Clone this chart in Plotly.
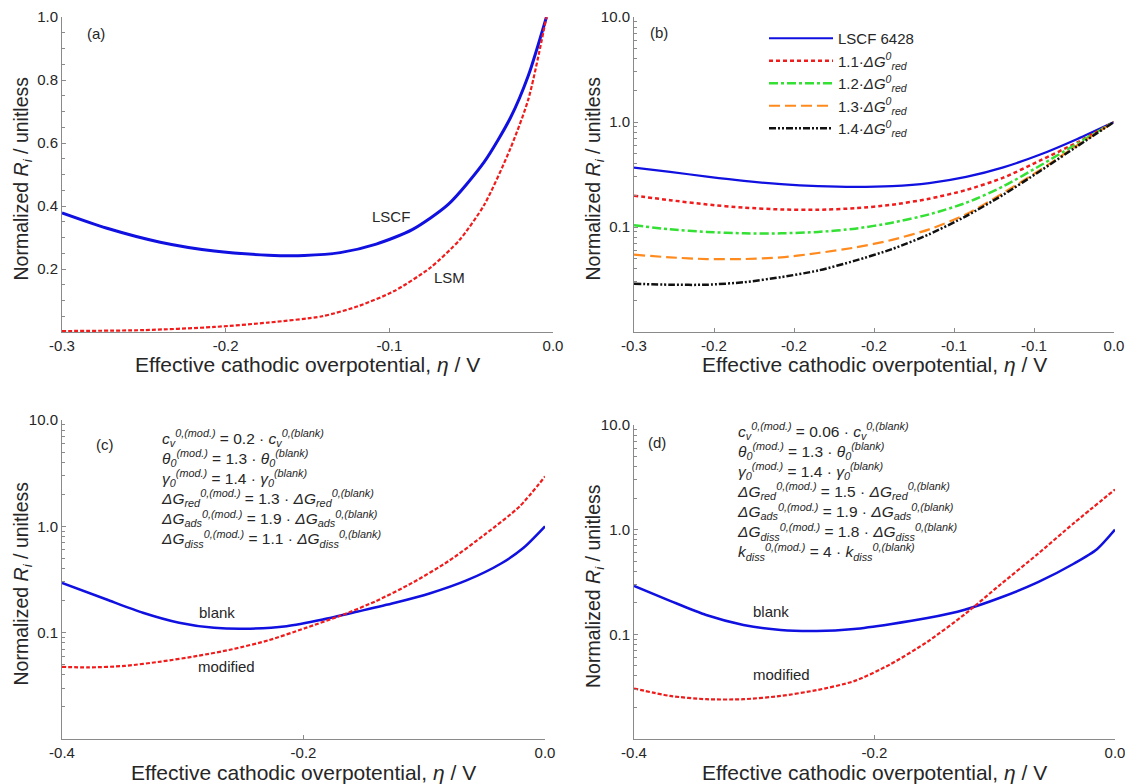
import math
import plotly.graph_objects as go

W, H = 1133, 784
OFF = 8  # page body margin in the browser; positions below are screen pixels

# ---------------- data ----------------
# Panel (a)  linear scale
ETA_A_LSCF = [-0.3, -0.273, -0.24, -0.207, -0.174, -0.152, -0.13, -0.108, -0.086, -0.064, -0.042, -0.026, -0.015, -0.004]
R_A_LSCF = [0.378, 0.33, 0.285, 0.257, 0.244, 0.243, 0.252, 0.279, 0.325, 0.405, 0.54, 0.68, 0.815, 1.0]
ETA_A_LSM = [-0.3, -0.25, -0.207, -0.174, -0.141, -0.119, -0.097, -0.075, -0.057, -0.042, -0.026, -0.015, -0.004]
R_A_LSM = [0.003, 0.006, 0.016, 0.03, 0.05, 0.082, 0.13, 0.204, 0.293, 0.404, 0.583, 0.74, 1.0]

# Panel (b)  log scale
ETA_B = [-0.3, -0.2775, -0.2544, -0.2313, -0.2081, -0.185, -0.1618, -0.1387, -0.1155, -0.0924, -0.0692, -0.0461, -0.0229, 0.0]
R_B_LSCF = [0.368, 0.335, 0.302, 0.275, 0.256, 0.245, 0.241, 0.245, 0.262, 0.3, 0.37, 0.49, 0.69, 1.0]
R_B_11 = [0.199, 0.18, 0.164, 0.153, 0.147, 0.146, 0.151, 0.163, 0.186, 0.225, 0.295, 0.43, 0.64, 1.0]
R_B_12 = [0.104, 0.095, 0.0898, 0.087, 0.087, 0.0898, 0.0964, 0.11, 0.132, 0.17, 0.244, 0.385, 0.625, 1.0]
R_B_13 = [0.0545, 0.0514, 0.0495, 0.0495, 0.0514, 0.0565, 0.0638, 0.0754, 0.095, 0.132, 0.211, 0.35, 0.60, 1.0]
R_B_14 = [0.0288, 0.0282, 0.0282, 0.0298, 0.0333, 0.0385, 0.0478, 0.0616, 0.0853, 0.127, 0.203, 0.342, 0.589, 1.0]
B_NAMES = [
    "LSCF 6428",
    "1.1·<i>ΔG</i><sup><i>0</i></sup><sub><i>red</i></sub>",
    "1.2·<i>ΔG</i><sup><i>0</i></sup><sub><i>red</i></sub>",
    "1.3·<i>ΔG</i><sup><i>0</i></sup><sub><i>red</i></sub>",
    "1.4·<i>ΔG</i><sup><i>0</i></sup><sub><i>red</i></sub>",
]

# Panel (c)  log scale
ETA_C_BLANK = [-0.4, -0.363, -0.333, -0.303, -0.274, -0.244, -0.214, -0.184, -0.155, -0.125, -0.095, -0.065, -0.036, -0.018, 0.0]
R_C_BLANK = [0.294, 0.205, 0.154, 0.124, 0.111, 0.109, 0.115, 0.133, 0.158, 0.19, 0.235, 0.31, 0.45, 0.625, 1.0]
ETA_C_MOD = [-0.4, -0.378, -0.348, -0.318, -0.288, -0.259, -0.229, -0.199, -0.169, -0.140, -0.110, -0.080, -0.050, -0.021, 0.0]
R_C_MOD = [0.0477, 0.0471, 0.0487, 0.0535, 0.0604, 0.0698, 0.0848, 0.11, 0.145, 0.198, 0.294, 0.47, 0.835, 1.54, 2.94]
C_LINES = [
    "<i>c<sub>v</sub><sup>0,(mod.)</sup></i> = 0.2 · <i>c<sub>v</sub><sup>0,(blank)</sup></i>",
    "<i>θ<sub>0</sub><sup>(mod.)</sup></i> = 1.3 · <i>θ<sub>0</sub><sup>(blank)</sup></i>",
    "<i>γ<sub>0</sub><sup>(mod.)</sup></i> = 1.4 · <i>γ<sub>0</sub><sup>(blank)</sup></i>",
    "<i>ΔG<sub>red</sub><sup>0,(mod.)</sup></i> = 1.3 · <i>ΔG<sub>red</sub><sup>0,(blank)</sup></i>",
    "<i>ΔG<sub>ads</sub><sup>0,(mod.)</sup></i> = 1.9 · <i>ΔG<sub>ads</sub><sup>0,(blank)</sup></i>",
    "<i>ΔG<sub>diss</sub><sup>0,(mod.)</sup></i> = 1.1 · <i>ΔG<sub>diss</sub><sup>0,(blank)</sup></i>",
]

# Panel (d)  log scale
ETA_D_BLANK = [-0.4, -0.370, -0.340, -0.309, -0.278, -0.248, -0.217, -0.187, -0.156, -0.125, -0.095, -0.064, -0.034, -0.015, 0.0]
R_D_BLANK = [0.29, 0.209, 0.153, 0.123, 0.110, 0.1076, 0.1125, 0.125, 0.143, 0.172, 0.225, 0.315, 0.475, 0.65, 1.0]
ETA_D_MOD = [-0.4, -0.370, -0.340, -0.309, -0.278, -0.248, -0.217, -0.187, -0.156, -0.125, -0.095, -0.064, -0.034, 0.0]
R_D_MOD = [0.0304, 0.0258, 0.024, 0.024, 0.0258, 0.0293, 0.0357, 0.0516, 0.085, 0.1555, 0.301, 0.589, 1.16, 2.42]
D_LINES = [
    "<i>c<sub>v</sub><sup>0,(mod.)</sup></i> = 0.06 · <i>c<sub>v</sub><sup>0,(blank)</sup></i>",
    "<i>θ<sub>0</sub><sup>(mod.)</sup></i> = 1.3 · <i>θ<sub>0</sub><sup>(blank)</sup></i>",
    "<i>γ<sub>0</sub><sup>(mod.)</sup></i> = 1.4 · <i>γ<sub>0</sub><sup>(blank)</sup></i>",
    "<i>ΔG<sub>red</sub><sup>0,(mod.)</sup></i> = 1.5 · <i>ΔG<sub>red</sub><sup>0,(blank)</sup></i>",
    "<i>ΔG<sub>ads</sub><sup>0,(mod.)</sup></i> = 1.9 · <i>ΔG<sub>ads</sub><sup>0,(blank)</sup></i>",
    "<i>ΔG<sub>diss</sub><sup>0,(mod.)</sup></i> = 1.8 · <i>ΔG<sub>diss</sub><sup>0,(blank)</sup></i>",
    "<i>k<sub>diss</sub><sup>0,(mod.)</sup></i> = 4 · <i>k<sub>diss</sub><sup>0,(blank)</sup></i>",
]

# tick labels
X_TICKS_A = [-0.3, -0.2, -0.1, 0.0]
X_TEXT_A = ["-0.3", "-0.2", "-0.1", "0.0"]
X_TICKS_B = [-0.3, -0.25, -0.2, -0.15, -0.1, -0.05, 0.0]
X_TEXT_B = ["-0.3", "-0.2", "-0.2", "-0.2", "-0.1", "-0.1", "0.0"]
X_TICKS_CD = [-0.4, -0.2, 0.0]
X_TEXT_CD = ["-0.4", "-0.2", "0.0"]
Y_TICKS_A = [0.2, 0.4, 0.6, 0.8, 1.0]
Y_TEXT_A = ["0.2", "0.4", "0.6", "0.8", "1.0"]
Y_TICKS_LOG = [0.1, 1.0, 10.0]
Y_TEXT_LOG = ["0.1", "1.0", "10.0"]

X_TITLE = "Effective cathodic overpotential, <i>η</i> / V"
Y_TITLE = "Normalized <i>R<sub>i</sub></i> / unitless"

# ---------------- style ----------------
FONT = "Liberation Sans, Arial, sans-serif"
TXT = "#262626"
AX = "#8a8a8a"
BLUE = "#1010e0"
RED = "#f01c1c"
GREEN = "#33e033"
ORANGE = "#ff8a1e"
BLACK = "#111111"

# panel boxes in screen pixels: (left, right, top, bottom)
BOX = {
    "a": (62, 553, 17, 332),
    "b": (634, 1114, 17, 332),
    "c": (62, 545, 420, 739),
    "d": (634, 1115, 425, 739),
}


def fx(px):
    return (px - OFF) / W


def fy(py):
    return 1 - (py - OFF) / H


def dom(box):
    l, r, t, b = box
    return [fx(l), fx(r)], [fy(b), fy(t)]


fig = go.Figure()


def line(x, y, xa, ya, color, width, dash="solid", name=None, legend=False):
    fig.add_trace(go.Scatter(
        x=x, y=y, mode="lines", xaxis=xa, yaxis=ya,
        line=dict(color=color, width=width, dash=dash, shape="spline", smoothing=0.7),
        name=name, showlegend=legend, hoverinfo="skip"))


line(ETA_A_LSCF, R_A_LSCF, "x", "y", BLUE, 3)
line(ETA_A_LSM, R_A_LSM, "x", "y", RED, 2.2, "4px,2px")

line(ETA_B, R_B_LSCF, "x2", "y2", BLUE, 2.2, "solid", B_NAMES[0], True)
line(ETA_B, R_B_11, "x2", "y2", RED, 2.5, "4px,3px", B_NAMES[1], True)
line(ETA_B, R_B_12, "x2", "y2", GREEN, 2.5, "9px,3px,3px,3px", B_NAMES[2], True)
line(ETA_B, R_B_13, "x2", "y2", ORANGE, 2.2, "11px,5px", B_NAMES[3], True)
line(ETA_B, R_B_14, "x2", "y2", BLACK, 2.5, "7px,2px,2px,2px,2px,2px", B_NAMES[4], True)

line(ETA_C_BLANK, R_C_BLANK, "x3", "y3", BLUE, 2.5)
line(ETA_C_MOD, R_C_MOD, "x3", "y3", RED, 2.2, "4px,2px")

line(ETA_D_BLANK, R_D_BLANK, "x4", "y4", BLUE, 2.5)
line(ETA_D_MOD, R_D_MOD, "x4", "y4", RED, 2.2, "4px,2px")

tickfont = dict(family=FONT, size=15, color=TXT)


def xax(box, rng, tv, tt, anchor):
    d, _ = dom(box)
    return dict(domain=d, range=rng, anchor=anchor, tickmode="array", tickvals=tv, ticktext=tt,
                showline=True, linecolor=AX, linewidth=1, ticks="inside", ticklen=4, tickcolor=AX,
                showgrid=False, zeroline=False, tickfont=tickfont, fixedrange=True, automargin=False,
                ticklabeloverflow="allow")


def yax(box, anchor, log):
    _, d = dom(box)
    base = dict(domain=d, anchor=anchor, showline=True, linecolor=AX, linewidth=1,
                ticks="inside", ticklen=4, tickcolor=AX, showgrid=False, zeroline=False,
                tickfont=tickfont, fixedrange=True, tickmode="array", automargin=False,
                ticklabeloverflow="allow")
    if log:
        base.update(type="log", range=[-2, 1], tickvals=Y_TICKS_LOG, ticktext=Y_TEXT_LOG,
                    minor=dict(ticks="inside", ticklen=2.5, tickcolor=AX, dtick="D1", showgrid=False))
    else:
        base.update(range=[0, 1.0], tickvals=Y_TICKS_A, ticktext=Y_TEXT_A,
                    minor=dict(ticks="inside", ticklen=2.5, tickcolor=AX, dtick=0.05, tick0=0, showgrid=False))
    return base


fig.update_layout(
    width=W, height=H, margin=dict(l=0, r=0, t=0, b=0, autoexpand=False),
    paper_bgcolor="white", plot_bgcolor="white",
    font=dict(family=FONT, color=TXT),
    xaxis=xax(BOX["a"], [-0.3, 0.0], X_TICKS_A, X_TEXT_A, "y"),
    yaxis=yax(BOX["a"], "x", False),
    xaxis2=xax(BOX["b"], [-0.3, 0.0], X_TICKS_B, X_TEXT_B, "y2"),
    yaxis2=yax(BOX["b"], "x2", True),
    xaxis3=xax(BOX["c"], [-0.4, 0.0], X_TICKS_CD, X_TEXT_CD, "y3"),
    yaxis3=yax(BOX["c"], "x3", True),
    xaxis4=xax(BOX["d"], [-0.4, 0.0], X_TICKS_CD, X_TEXT_CD, "y4"),
    yaxis4=yax(BOX["d"], "x4", True),
    legend=dict(x=fx(764), y=fy(22), xanchor="left", yanchor="top",
                bgcolor="rgba(0,0,0,0)", font=dict(family=FONT, size=15, color=TXT),
                itemwidth=64, tracegroupgap=0),
    showlegend=True,
)

ann = []


def paper_text(text, px, py, size, angle=0):
    ann.append(dict(text=text, x=fx(px), y=fy(py), xref="paper", yref="paper",
                    showarrow=False, textangle=angle, xanchor="center", yanchor="middle",
                    font=dict(family=FONT, size=size, color=TXT)))


# axis titles
for key in "abcd":
    l, r, t, b = BOX[key]
    paper_text(X_TITLE, (l + r) / 2, b + 33, 21)
    paper_text(Y_TITLE, l - 40, (t + b) / 2 + 4, 19.5, -90)


def data_text(text, x, y, xa, ya, size=15, xanchor="center", log=False):
    ann.append(dict(text=text, x=x, y=(math.log10(y) if log else y), xref=xa, yref=ya,
                    showarrow=False, xanchor=xanchor, yanchor="middle", align="left",
                    font=dict(family=FONT, size=size, color=TXT)))


data_text("(a)", -0.279, 0.947, "x", "y")
data_text("LSCF", -0.099, 0.367, "x", "y")
data_text("LSM", -0.063, 0.172, "x", "y")
data_text("(b)", -0.2845, 7.06, "x2", "y2", log=True)
data_text("(c)", -0.364, 5.83, "x3", "y3", log=True)
data_text("blank", -0.272, 0.154, "x3", "y3", log=True)
data_text("modified", -0.264, 0.0477, "x3", "y3", log=True)
data_text("(d)", -0.381, 6.77, "x4", "y4", log=True)
data_text("blank", -0.286, 0.165, "x4", "y4", log=True)
data_text("modified", -0.277, 0.0414, "x4", "y4", log=True)

# parameter blocks (one multi-line text each)
data_text("<br>".join(C_LINES), -0.32, 10 ** 0.356, "x3", "y3", size=15.5, xanchor="left", log=True)
data_text("<br>".join(D_LINES), -0.316, 10 ** 0.362, "x4", "y4", size=15.5, xanchor="left", log=True)

fig.update_layout(annotations=ann)
fig.write_html("out.html")
